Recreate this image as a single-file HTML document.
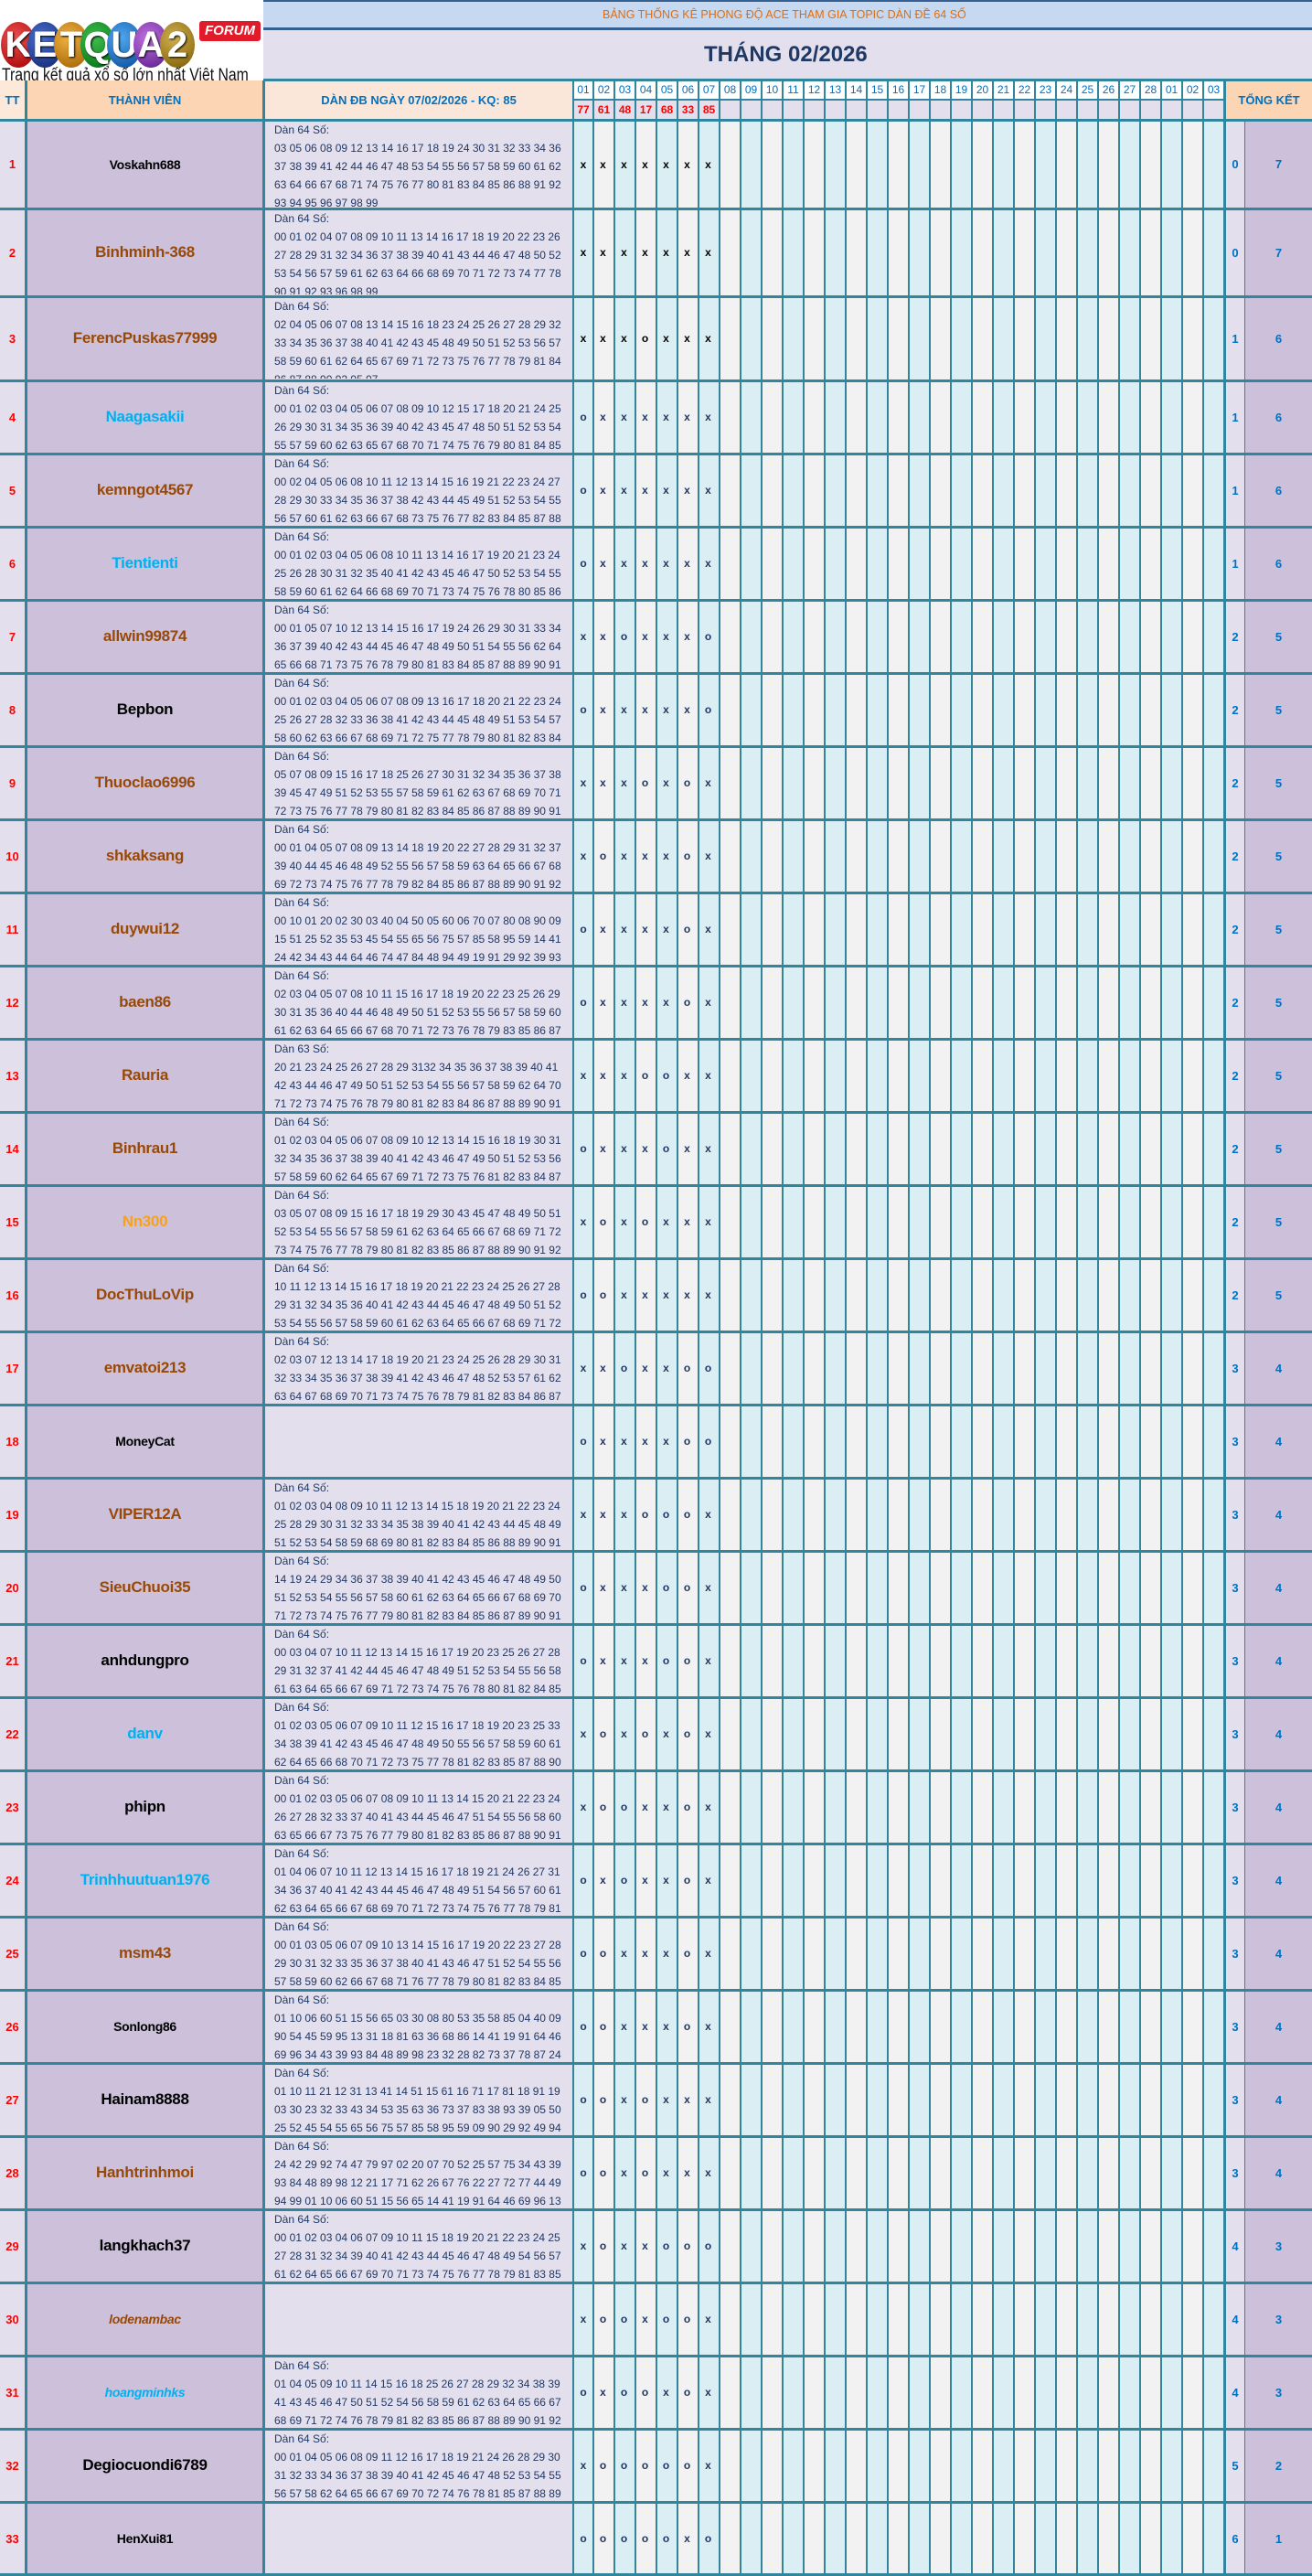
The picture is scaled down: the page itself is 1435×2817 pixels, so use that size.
<!DOCTYPE html>
<html><head><meta charset="utf-8">
<style>
body{margin:0;width:1435px;height:2817px;position:relative;overflow:hidden;background:#fff;font-family:"Liberation Sans","Noto Sans CJK SC",sans-serif}
.a{position:absolute}
.c{position:absolute;top:88px;height:2729px;width:21px;border-left:2px solid #31859c;background:linear-gradient(#fff 0 20px,#e4dfec 20px 43px,#daeef3 43px)}
.c.g{background:linear-gradient(#fff 0 20px,#e4dfec 20px 43px,#f2f2f2 43px)}
.c b{display:block;height:20px;line-height:21px;text-align:center;font-size:12px;color:#0070c0;font-weight:normal}
.c i{display:block;height:23px;line-height:24px;font-style:normal;color:#ff0000;font-weight:bold;font-size:12px;text-align:center}
.h{position:absolute;left:0;width:1435px;height:3px;background:#31859c}
.v{position:absolute;top:88px;height:2729px;background:#31859c}
.r{position:absolute;left:0;width:1435px}
.r>*{position:absolute}
.t{left:0;width:27px;top:0;bottom:0;display:flex;align-items:center;justify-content:center;color:#ff0000;font-weight:bold;font-size:13px;font-style:normal}
.n{left:30px;width:257px;top:0;bottom:0;display:flex;align-items:center;justify-content:center;font-weight:bold;font-size:17px;letter-spacing:-0.3px;color:#984807}
.k{color:#000}.bl{color:#00b0f0}.sm{font-size:14px}.it{font-style:italic}
.d{left:300px;top:1px;bottom:2px;margin:0;font-size:12px;line-height:20px;color:#1f3864;white-space:nowrap;width:324px;overflow:hidden}
.m{left:628px;top:0;bottom:0;display:grid;grid-template-columns:20px repeat(6,23px);align-items:center;text-align:center;font-weight:bold;font-size:12px;color:#1f3864}
.s,.gg{top:0;bottom:0;display:flex;align-items:center;justify-content:center;color:#0070c0;font-weight:bold;font-size:13px;font-style:normal}
.s{left:1341px;width:20px}.gg{left:1362px;width:73px}
.hd{display:flex;align-items:center;justify-content:center;color:#0070c0;font-weight:bold;font-size:13px}
.lg{position:absolute;top:24px;width:38px;height:50px;border-radius:50%;color:#fff;font-weight:bold;font-size:40px;line-height:50px;text-align:center;text-shadow:1px 1px 2px #000}
</style></head><body>

<!-- logo -->
<div class="lg" style="left:1px;background:radial-gradient(circle at 40% 35%,#f05050,#a00000)">K</div>
<div class="lg" style="left:30px;background:radial-gradient(circle at 40% 35%,#4a6fd0,#10256e)">E</div>
<div class="lg" style="left:59px;background:radial-gradient(circle at 40% 35%,#f0b040,#a06000)">T</div>
<div class="lg" style="left:88px;background:radial-gradient(circle at 40% 35%,#40c050,#006a10)">Q</div>
<div class="lg" style="left:117px;background:radial-gradient(circle at 40% 35%,#50a8f0,#0a4a9a)">U</div>
<div class="lg" style="left:146px;background:radial-gradient(circle at 40% 35%,#c070e0,#5a1a8a)">A</div>
<div class="lg" style="left:175px;background:radial-gradient(circle at 40% 35%,#d0b050,#7a5a00)">2</div>
<div class="a" style="left:218px;top:23px;width:67px;height:22px;background:#e21b2b;border-radius:3px;color:#fff;font-weight:bold;font-style:italic;font-size:15px;line-height:22px;text-align:center">FORUM</div>
<div class="a" style="left:2px;top:72px;font-size:19px;color:#111;white-space:nowrap;transform:scaleX(0.83);transform-origin:left top">Trang kết quả xổ số lớn nhất Việt Nam</div>

<!-- title bands -->
<div class="a" style="left:288px;top:0;width:1147px;height:30px;background:#c6d9f0;border-top:2px solid #376092"></div>
<div class="a" style="left:288px;top:9px;width:1147px;text-align:left;padding-left:371px;box-sizing:border-box;color:#e46c0a;font-size:12.5px">BẢNG THỐNG KÊ PHONG ĐỘ ACE THAM GIA TOPIC DÀN ĐỀ 64 SỐ</div>
<div class="a" style="left:288px;top:30px;width:1147px;height:3px;background:#376092"></div>
<div class="a" style="left:288px;top:33px;width:1147px;height:55px;background:#e4dfec"></div>
<div class="a" style="left:770px;top:46px;color:#1f3864;font-weight:bold;font-size:24px;white-space:nowrap">THÁNG 02/2026</div>

<!-- column backgrounds -->
<div class="a" style="left:0;top:88px;width:27px;height:2729px;background:#e4dfec"></div>
<div class="a" style="left:30px;top:88px;width:257px;height:2729px;background:#ccc0da"></div>
<div class="a" style="left:290px;top:88px;width:336px;height:2729px;background:#e4dfec"></div>
<div class="a" style="left:1341px;top:88px;width:20px;height:2729px;background:#e4dfec"></div>
<div class="a" style="left:1362px;top:88px;width:73px;height:2729px;background:#ccc0da"></div>

<!-- headers -->
<div class="a hd" style="left:0;top:88px;width:27px;height:42px;background:#fde9d9">TT</div>
<div class="a hd" style="left:30px;top:88px;width:257px;height:42px;background:#fcd5b4">THÀNH VIÊN</div>
<div class="a hd" style="left:290px;top:88px;width:336px;height:42px;background:#fbe7da">DÀN ĐB NGÀY 07/02/2026 - KQ: 85</div>
<div class="a hd" style="left:1341px;top:88px;width:94px;height:42px;background:#fcd5b4">TỔNG KẾT</div>

<!-- day columns -->
<div class="c" style="left:626px;width:20px"><b>01</b><i>77</i></div>
<div class="c g" style="left:648px"><b>02</b><i>61</i></div>
<div class="c" style="left:671px"><b>03</b><i>48</i></div>
<div class="c g" style="left:694px"><b>04</b><i>17</i></div>
<div class="c" style="left:717px"><b>05</b><i>68</i></div>
<div class="c g" style="left:740px"><b>06</b><i>33</i></div>
<div class="c" style="left:763px"><b>07</b><i>85</i></div>
<div class="c g" style="left:786px"><b>08</b><i></i></div>
<div class="c" style="left:809px"><b>09</b><i></i></div>
<div class="c g" style="left:832px"><b>10</b><i></i></div>
<div class="c" style="left:855px"><b>11</b><i></i></div>
<div class="c g" style="left:878px"><b>12</b><i></i></div>
<div class="c" style="left:901px"><b>13</b><i></i></div>
<div class="c g" style="left:924px"><b>14</b><i></i></div>
<div class="c" style="left:947px"><b>15</b><i></i></div>
<div class="c g" style="left:970px"><b>16</b><i></i></div>
<div class="c" style="left:993px"><b>17</b><i></i></div>
<div class="c g" style="left:1016px"><b>18</b><i></i></div>
<div class="c" style="left:1039px"><b>19</b><i></i></div>
<div class="c g" style="left:1062px"><b>20</b><i></i></div>
<div class="c" style="left:1085px"><b>21</b><i></i></div>
<div class="c g" style="left:1108px"><b>22</b><i></i></div>
<div class="c" style="left:1131px"><b>23</b><i></i></div>
<div class="c g" style="left:1154px"><b>24</b><i></i></div>
<div class="c" style="left:1177px"><b>25</b><i></i></div>
<div class="c g" style="left:1200px"><b>26</b><i></i></div>
<div class="c" style="left:1223px"><b>27</b><i></i></div>
<div class="c g" style="left:1246px"><b>28</b><i></i></div>
<div class="c" style="left:1269px"><b>01</b><i></i></div>
<div class="c g" style="left:1292px"><b>02</b><i></i></div>
<div class="c" style="left:1315px"><b>03</b><i></i></div>

<!-- vertical lines -->
<div class="v" style="left:27px;width:3px"></div>
<div class="v" style="left:287px;width:3px"></div>
<div class="v" style="left:1338px;width:3px"></div>
<div class="v" style="left:1361px;width:1px;top:131px;height:2686px"></div>
<div class="a" style="left:626px;top:108px;width:712px;height:2px;background:#31859c"></div>
<div class="a" style="left:288px;top:86px;width:1147px;height:3px;background:#31859c"></div>

<!-- horizontal lines -->
<div class="h" style="top:130px"></div><div class="h" style="top:227px"></div><div class="h" style="top:323px"></div><div class="h" style="top:415px"></div>
<div class="h" style="top:495px"></div><div class="h" style="top:575px"></div><div class="h" style="top:655px"></div><div class="h" style="top:735px"></div>
<div class="h" style="top:815px"></div><div class="h" style="top:895px"></div><div class="h" style="top:975px"></div><div class="h" style="top:1055px"></div>
<div class="h" style="top:1135px"></div><div class="h" style="top:1215px"></div><div class="h" style="top:1295px"></div><div class="h" style="top:1375px"></div>
<div class="h" style="top:1455px"></div><div class="h" style="top:1535px"></div><div class="h" style="top:1615px"></div><div class="h" style="top:1695px"></div>
<div class="h" style="top:1775px"></div><div class="h" style="top:1855px"></div><div class="h" style="top:1935px"></div><div class="h" style="top:2015px"></div>
<div class="h" style="top:2095px"></div><div class="h" style="top:2175px"></div><div class="h" style="top:2255px"></div><div class="h" style="top:2335px"></div>
<div class="h" style="top:2415px"></div><div class="h" style="top:2495px"></div><div class="h" style="top:2575px"></div><div class="h" style="top:2655px"></div>
<div class="h" style="top:2735px"></div><div class="h" style="top:2814px"></div>

<!-- rows -->
<div class="r" style="top:131px;height:97px"><i class="t">1</i><b class="n k sm">Voskahn688</b><p class="d">Dàn 64 Số:<br>03 05 06 08 09 12 13 14 16 17 18 19 24 30 31 32 33 34 36<br>37 38 39 41 42 44 46 47 48 53 54 55 56 57 58 59 60 61 62<br>63 64 66 67 68 71 74 75 76 77 80 81 83 84 85 86 88 91 92<br>93 94 95 96 97 98 99</p><div class="m" style="color:#000"><span>x</span><span>x</span><span>x</span><span>x</span><span>x</span><span>x</span><span>x</span></div><i class="s">0</i><i class="gg">7</i></div>
<div class="r" style="top:228px;height:96px"><i class="t">2</i><b class="n">Binhminh-368</b><p class="d">Dàn 64 Số:<br>00 01 02 04 07 08 09 10 11 13 14 16 17 18 19 20 22 23 26<br>27 28 29 31 32 34 36 37 38 39 40 41 43 44 46 47 48 50 52<br>53 54 56 57 59 61 62 63 64 66 68 69 70 71 72 73 74 77 78<br>90 91 92 93 96 98 99</p><div class="m" style="color:#000"><span>x</span><span>x</span><span>x</span><span>x</span><span>x</span><span>x</span><span>x</span></div><i class="s">0</i><i class="gg">7</i></div>
<div class="r" style="top:324px;height:92px"><i class="t">3</i><b class="n">FerencPuskas77999</b><p class="d">Dàn 64 Số:<br>02 04 05 06 07 08 13 14 15 16 18 23 24 25 26 27 28 29 32<br>33 34 35 36 37 38 40 41 42 43 45 48 49 50 51 52 53 56 57<br>58 59 60 61 62 64 65 67 69 71 72 73 75 76 77 78 79 81 84<br>86 87 88 90 92 95 97</p><div class="m" style="color:#000"><span>x</span><span>x</span><span>x</span><span>o</span><span>x</span><span>x</span><span>x</span></div><i class="s">1</i><i class="gg">6</i></div>
<div class="r" style="top:416px;height:80px"><i class="t">4</i><b class="n bl">Naagasakii</b><p class="d">Dàn 64 Số:<br>00 01 02 03 04 05 06 07 08 09 10 12 15 17 18 20 21 24 25<br>26 29 30 31 34 35 36 39 40 42 43 45 47 48 50 51 52 53 54<br>55 57 59 60 62 63 65 67 68 70 71 74 75 76 79 80 81 84 85</p><div class="m"><span>o</span><span>x</span><span>x</span><span>x</span><span>x</span><span>x</span><span>x</span></div><i class="s">1</i><i class="gg">6</i></div>
<div class="r" style="top:496px;height:80px"><i class="t">5</i><b class="n">kemngot4567</b><p class="d">Dàn 64 Số:<br>00 02 04 05 06 08 10 11 12 13 14 15 16 19 21 22 23 24 27<br>28 29 30 33 34 35 36 37 38 42 43 44 45 49 51 52 53 54 55<br>56 57 60 61 62 63 66 67 68 73 75 76 77 82 83 84 85 87 88</p><div class="m"><span>o</span><span>x</span><span>x</span><span>x</span><span>x</span><span>x</span><span>x</span></div><i class="s">1</i><i class="gg">6</i></div>
<div class="r" style="top:576px;height:80px"><i class="t">6</i><b class="n bl">Tientienti</b><p class="d">Dàn 64 Số:<br>00 01 02 03 04 05 06 08 10 11 13 14 16 17 19 20 21 23 24<br>25 26 28 30 31 32 35 40 41 42 43 45 46 47 50 52 53 54 55<br>58 59 60 61 62 64 66 68 69 70 71 73 74 75 76 78 80 85 86</p><div class="m"><span>o</span><span>x</span><span>x</span><span>x</span><span>x</span><span>x</span><span>x</span></div><i class="s">1</i><i class="gg">6</i></div>
<div class="r" style="top:656px;height:80px"><i class="t">7</i><b class="n">allwin99874</b><p class="d">Dàn 64 Số:<br>00 01 05 07 10 12 13 14 15 16 17 19 24 26 29 30 31 33 34<br>36 37 39 40 42 43 44 45 46 47 48 49 50 51 54 55 56 62 64<br>65 66 68 71 73 75 76 78 79 80 81 83 84 85 87 88 89 90 91</p><div class="m"><span>x</span><span>x</span><span>o</span><span>x</span><span>x</span><span>x</span><span>o</span></div><i class="s">2</i><i class="gg">5</i></div>
<div class="r" style="top:736px;height:80px"><i class="t">8</i><b class="n k">Bepbon</b><p class="d">Dàn 64 Số:<br>00 01 02 03 04 05 06 07 08 09 13 16 17 18 20 21 22 23 24<br>25 26 27 28 32 33 36 38 41 42 43 44 45 48 49 51 53 54 57<br>58 60 62 63 66 67 68 69 71 72 75 77 78 79 80 81 82 83 84</p><div class="m"><span>o</span><span>x</span><span>x</span><span>x</span><span>x</span><span>x</span><span>o</span></div><i class="s">2</i><i class="gg">5</i></div>
<div class="r" style="top:816px;height:80px"><i class="t">9</i><b class="n">Thuoclao6996</b><p class="d">Dàn 64 Số:<br>05 07 08 09 15 16 17 18 25 26 27 30 31 32 34 35 36 37 38<br>39 45 47 49 51 52 53 55 57 58 59 61 62 63 67 68 69 70 71<br>72 73 75 76 77 78 79 80 81 82 83 84 85 86 87 88 89 90 91</p><div class="m"><span>x</span><span>x</span><span>x</span><span>o</span><span>x</span><span>o</span><span>x</span></div><i class="s">2</i><i class="gg">5</i></div>
<div class="r" style="top:896px;height:80px"><i class="t">10</i><b class="n">shkaksang</b><p class="d">Dàn 64 Số:<br>00 01 04 05 07 08 09 13 14 18 19 20 22 27 28 29 31 32 37<br>39 40 44 45 46 48 49 52 55 56 57 58 59 63 64 65 66 67 68<br>69 72 73 74 75 76 77 78 79 82 84 85 86 87 88 89 90 91 92</p><div class="m"><span>x</span><span>o</span><span>x</span><span>x</span><span>x</span><span>o</span><span>x</span></div><i class="s">2</i><i class="gg">5</i></div>
<div class="r" style="top:976px;height:80px"><i class="t">11</i><b class="n">duywui12</b><p class="d">Dàn 64 Số:<br>00 10 01 20 02 30 03 40 04 50 05 60 06 70 07 80 08 90 09<br>15 51 25 52 35 53 45 54 55 65 56 75 57 85 58 95 59 14 41<br>24 42 34 43 44 64 46 74 47 84 48 94 49 19 91 29 92 39 93</p><div class="m"><span>o</span><span>x</span><span>x</span><span>x</span><span>x</span><span>o</span><span>x</span></div><i class="s">2</i><i class="gg">5</i></div>
<div class="r" style="top:1056px;height:80px"><i class="t">12</i><b class="n">baen86</b><p class="d">Dàn 64 Số:<br>02 03 04 05 07 08 10 11 15 16 17 18 19 20 22 23 25 26 29<br>30 31 35 36 40 44 46 48 49 50 51 52 53 55 56 57 58 59 60<br>61 62 63 64 65 66 67 68 70 71 72 73 76 78 79 83 85 86 87</p><div class="m"><span>o</span><span>x</span><span>x</span><span>x</span><span>x</span><span>o</span><span>x</span></div><i class="s">2</i><i class="gg">5</i></div>
<div class="r" style="top:1136px;height:80px"><i class="t">13</i><b class="n">Rauria</b><p class="d">Dàn 63 Số:<br>20 21 23 24 25 26 27 28 29 3132 34 35 36 37 38 39 40 41<br>42 43 44 46 47 49 50 51 52 53 54 55 56 57 58 59 62 64 70<br>71 72 73 74 75 76 78 79 80 81 82 83 84 86 87 88 89 90 91</p><div class="m"><span>x</span><span>x</span><span>x</span><span>o</span><span>o</span><span>x</span><span>x</span></div><i class="s">2</i><i class="gg">5</i></div>
<div class="r" style="top:1216px;height:80px"><i class="t">14</i><b class="n">Binhrau1</b><p class="d">Dàn 64 Số:<br>01 02 03 04 05 06 07 08 09 10 12 13 14 15 16 18 19 30 31<br>32 34 35 36 37 38 39 40 41 42 43 46 47 49 50 51 52 53 56<br>57 58 59 60 62 64 65 67 69 71 72 73 75 76 81 82 83 84 87</p><div class="m"><span>o</span><span>x</span><span>x</span><span>x</span><span>o</span><span>x</span><span>x</span></div><i class="s">2</i><i class="gg">5</i></div>
<div class="r" style="top:1296px;height:80px"><i class="t">15</i><b class="n" style="color:#f9a11b">Nn300</b><p class="d">Dàn 64 Số:<br>03 05 07 08 09 15 16 17 18 19 29 30 43 45 47 48 49 50 51<br>52 53 54 55 56 57 58 59 61 62 63 64 65 66 67 68 69 71 72<br>73 74 75 76 77 78 79 80 81 82 83 85 86 87 88 89 90 91 92</p><div class="m"><span>x</span><span>o</span><span>x</span><span>o</span><span>x</span><span>x</span><span>x</span></div><i class="s">2</i><i class="gg">5</i></div>
<div class="r" style="top:1376px;height:80px"><i class="t">16</i><b class="n">DocThuLoVip</b><p class="d">Dàn 64 Số:<br>10 11 12 13 14 15 16 17 18 19 20 21 22 23 24 25 26 27 28<br>29 31 32 34 35 36 40 41 42 43 44 45 46 47 48 49 50 51 52<br>53 54 55 56 57 58 59 60 61 62 63 64 65 66 67 68 69 71 72</p><div class="m"><span>o</span><span>o</span><span>x</span><span>x</span><span>x</span><span>x</span><span>x</span></div><i class="s">2</i><i class="gg">5</i></div>
<div class="r" style="top:1456px;height:80px"><i class="t">17</i><b class="n">emvatoi213</b><p class="d">Dàn 64 Số:<br>02 03 07 12 13 14 17 18 19 20 21 23 24 25 26 28 29 30 31<br>32 33 34 35 36 37 38 39 41 42 43 46 47 48 52 53 57 61 62<br>63 64 67 68 69 70 71 73 74 75 76 78 79 81 82 83 84 86 87</p><div class="m"><span>x</span><span>x</span><span>o</span><span>x</span><span>x</span><span>o</span><span>o</span></div><i class="s">3</i><i class="gg">4</i></div>
<div class="r" style="top:1536px;height:80px"><i class="t">18</i><b class="n k sm">MoneyCat</b><div class="m"><span>o</span><span>x</span><span>x</span><span>x</span><span>x</span><span>o</span><span>o</span></div><i class="s">3</i><i class="gg">4</i></div>
<div class="r" style="top:1616px;height:80px"><i class="t">19</i><b class="n">VIPER12A</b><p class="d">Dàn 64 Số:<br>01 02 03 04 08 09 10 11 12 13 14 15 18 19 20 21 22 23 24<br>25 28 29 30 31 32 33 34 35 38 39 40 41 42 43 44 45 48 49<br>51 52 53 54 58 59 68 69 80 81 82 83 84 85 86 88 89 90 91</p><div class="m"><span>x</span><span>x</span><span>x</span><span>o</span><span>o</span><span>o</span><span>x</span></div><i class="s">3</i><i class="gg">4</i></div>
<div class="r" style="top:1696px;height:80px"><i class="t">20</i><b class="n">SieuChuoi35</b><p class="d">Dàn 64 Số:<br>14 19 24 29 34 36 37 38 39 40 41 42 43 45 46 47 48 49 50<br>51 52 53 54 55 56 57 58 60 61 62 63 64 65 66 67 68 69 70<br>71 72 73 74 75 76 77 79 80 81 82 83 84 85 86 87 89 90 91</p><div class="m"><span>o</span><span>x</span><span>x</span><span>x</span><span>o</span><span>o</span><span>x</span></div><i class="s">3</i><i class="gg">4</i></div>
<div class="r" style="top:1776px;height:80px"><i class="t">21</i><b class="n k">anhdungpro</b><p class="d">Dàn 64 Số:<br>00 03 04 07 10 11 12 13 14 15 16 17 19 20 23 25 26 27 28<br>29 31 32 37 41 42 44 45 46 47 48 49 51 52 53 54 55 56 58<br>61 63 64 65 66 67 69 71 72 73 74 75 76 78 80 81 82 84 85</p><div class="m"><span>o</span><span>x</span><span>x</span><span>x</span><span>o</span><span>o</span><span>x</span></div><i class="s">3</i><i class="gg">4</i></div>
<div class="r" style="top:1856px;height:80px"><i class="t">22</i><b class="n bl">danv</b><p class="d">Dàn 64 Số:<br>01 02 03 05 06 07 09 10 11 12 15 16 17 18 19 20 23 25 33<br>34 38 39 41 42 43 45 46 47 48 49 50 55 56 57 58 59 60 61<br>62 64 65 66 68 70 71 72 73 75 77 78 81 82 83 85 87 88 90</p><div class="m"><span>x</span><span>o</span><span>x</span><span>o</span><span>x</span><span>o</span><span>x</span></div><i class="s">3</i><i class="gg">4</i></div>
<div class="r" style="top:1936px;height:80px"><i class="t">23</i><b class="n k">phipn</b><p class="d">Dàn 64 Số:<br>00 01 02 03 05 06 07 08 09 10 11 13 14 15 20 21 22 23 24<br>26 27 28 32 33 37 40 41 43 44 45 46 47 51 54 55 56 58 60<br>63 65 66 67 73 75 76 77 79 80 81 82 83 85 86 87 88 90 91</p><div class="m"><span>x</span><span>o</span><span>o</span><span>x</span><span>x</span><span>o</span><span>x</span></div><i class="s">3</i><i class="gg">4</i></div>
<div class="r" style="top:2016px;height:80px"><i class="t">24</i><b class="n bl">Trinhhuutuan1976</b><p class="d">Dàn 64 Số:<br>01 04 06 07 10 11 12 13 14 15 16 17 18 19 21 24 26 27 31<br>34 36 37 40 41 42 43 44 45 46 47 48 49 51 54 56 57 60 61<br>62 63 64 65 66 67 68 69 70 71 72 73 74 75 76 77 78 79 81</p><div class="m"><span>o</span><span>x</span><span>o</span><span>x</span><span>x</span><span>o</span><span>x</span></div><i class="s">3</i><i class="gg">4</i></div>
<div class="r" style="top:2096px;height:80px"><i class="t">25</i><b class="n">msm43</b><p class="d">Dàn 64 Số:<br>00 01 03 05 06 07 09 10 13 14 15 16 17 19 20 22 23 27 28<br>29 30 31 32 33 35 36 37 38 40 41 43 46 47 51 52 54 55 56<br>57 58 59 60 62 66 67 68 71 76 77 78 79 80 81 82 83 84 85</p><div class="m"><span>o</span><span>o</span><span>x</span><span>x</span><span>x</span><span>o</span><span>x</span></div><i class="s">3</i><i class="gg">4</i></div>
<div class="r" style="top:2176px;height:80px"><i class="t">26</i><b class="n k sm">Sonlong86</b><p class="d">Dàn 64 Số:<br>01 10 06 60 51 15 56 65 03 30 08 80 53 35 58 85 04 40 09<br>90 54 45 59 95 13 31 18 81 63 36 68 86 14 41 19 91 64 46<br>69 96 34 43 39 93 84 48 89 98 23 32 28 82 73 37 78 87 24</p><div class="m"><span>o</span><span>o</span><span>x</span><span>x</span><span>x</span><span>o</span><span>x</span></div><i class="s">3</i><i class="gg">4</i></div>
<div class="r" style="top:2256px;height:80px"><i class="t">27</i><b class="n k">Hainam8888</b><p class="d">Dàn 64 Số:<br>01 10 11 21 12 31 13 41 14 51 15 61 16 71 17 81 18 91 19<br>03 30 23 32 33 43 34 53 35 63 36 73 37 83 38 93 39 05 50<br>25 52 45 54 55 65 56 75 57 85 58 95 59 09 90 29 92 49 94</p><div class="m"><span>o</span><span>o</span><span>x</span><span>o</span><span>x</span><span>x</span><span>x</span></div><i class="s">3</i><i class="gg">4</i></div>
<div class="r" style="top:2336px;height:80px"><i class="t">28</i><b class="n">Hanhtrinhmoi</b><p class="d">Dàn 64 Số:<br>24 42 29 92 74 47 79 97 02 20 07 70 52 25 57 75 34 43 39<br>93 84 48 89 98 12 21 17 71 62 26 67 76 22 27 72 77 44 49<br>94 99 01 10 06 60 51 15 56 65 14 41 19 91 64 46 69 96 13</p><div class="m"><span>o</span><span>o</span><span>x</span><span>o</span><span>x</span><span>x</span><span>x</span></div><i class="s">3</i><i class="gg">4</i></div>
<div class="r" style="top:2416px;height:80px"><i class="t">29</i><b class="n k">langkhach37</b><p class="d">Dàn 64 Số:<br>00 01 02 03 04 06 07 09 10 11 15 18 19 20 21 22 23 24 25<br>27 28 31 32 34 39 40 41 42 43 44 45 46 47 48 49 54 56 57<br>61 62 64 65 66 67 69 70 71 73 74 75 76 77 78 79 81 83 85</p><div class="m"><span>x</span><span>o</span><span>x</span><span>x</span><span>o</span><span>o</span><span>o</span></div><i class="s">4</i><i class="gg">3</i></div>
<div class="r" style="top:2496px;height:80px"><i class="t">30</i><b class="n sm it">lodenambac</b><div class="m"><span>x</span><span>o</span><span>o</span><span>x</span><span>o</span><span>o</span><span>x</span></div><i class="s">4</i><i class="gg">3</i></div>
<div class="r" style="top:2576px;height:80px"><i class="t">31</i><b class="n bl sm it">hoangminhks</b><p class="d">Dàn 64 Số:<br>01 04 05 09 10 11 14 15 16 18 25 26 27 28 29 32 34 38 39<br>41 43 45 46 47 50 51 52 54 56 58 59 61 62 63 64 65 66 67<br>68 69 71 72 74 76 78 79 81 82 83 85 86 87 88 89 90 91 92</p><div class="m"><span>o</span><span>x</span><span>o</span><span>o</span><span>x</span><span>o</span><span>x</span></div><i class="s">4</i><i class="gg">3</i></div>
<div class="r" style="top:2656px;height:80px"><i class="t">32</i><b class="n k">Degiocuondi6789</b><p class="d">Dàn 64 Số:<br>00 01 04 05 06 08 09 11 12 16 17 18 19 21 24 26 28 29 30<br>31 32 33 34 36 37 38 39 40 41 42 45 46 47 48 52 53 54 55<br>56 57 58 62 64 65 66 67 69 70 72 74 76 78 81 85 87 88 89</p><div class="m"><span>x</span><span>o</span><span>o</span><span>o</span><span>o</span><span>o</span><span>x</span></div><i class="s">5</i><i class="gg">2</i></div>
<div class="r" style="top:2736px;height:80px"><i class="t">33</i><b class="n k sm">HenXui81</b><div class="m"><span>o</span><span>o</span><span>o</span><span>o</span><span>o</span><span>x</span><span>o</span></div><i class="s">6</i><i class="gg">1</i></div>

</body></html>
